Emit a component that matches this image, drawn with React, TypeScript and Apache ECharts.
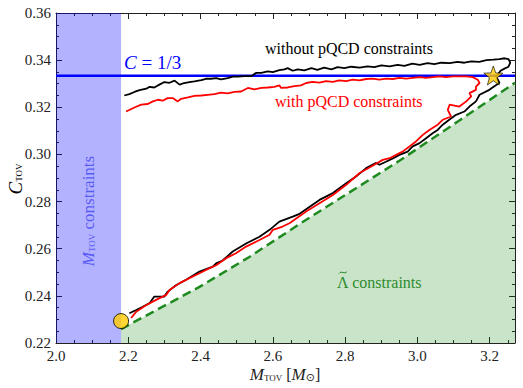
import React, { useEffect, useRef } from "react";
import * as echarts from "echarts";

const X_MIN = 2.0;
const X_MAX = 3.27;
const X_STEP = 0.2;
const Y_MIN = 0.22;
const Y_MAX = 0.36;
const Y_STEP = 0.02;
const MTOV_MIN = 2.18;
const C_LIMIT = 1 / 3;

const withoutPQCD: [number, number][] = [
  [2.189, 0.325], [2.203, 0.3256], [2.217, 0.3265], [2.231, 0.3273], [2.25, 0.3279], [2.259, 0.3287],
  [2.272, 0.3284], [2.286, 0.3296], [2.3, 0.3307], [2.314, 0.3304], [2.328, 0.3313], [2.342, 0.3296],
  [2.351, 0.3301], [2.369, 0.3307], [2.383, 0.331], [2.402, 0.3315], [2.415, 0.3321], [2.429, 0.3321],
  [2.443, 0.3324], [2.457, 0.3318], [2.475, 0.3324], [2.489, 0.333], [2.503, 0.333], [2.521, 0.3332],
  [2.54, 0.3332], [2.554, 0.3346], [2.568, 0.3346], [2.586, 0.3352], [2.6, 0.3349], [2.618, 0.3358],
  [2.632, 0.3361], [2.641, 0.3366], [2.655, 0.3355], [2.669, 0.3361], [2.687, 0.3357], [2.707, 0.3366],
  [2.723, 0.3359], [2.742, 0.3368], [2.762, 0.3361], [2.779, 0.337], [2.798, 0.3366], [2.817, 0.3372],
  [2.84, 0.3368], [2.862, 0.3374], [2.881, 0.337], [2.9, 0.3378], [2.923, 0.3374], [2.945, 0.338],
  [2.964, 0.3376], [2.986, 0.3385], [3.006, 0.338], [3.028, 0.3387], [3.047, 0.3383], [3.066, 0.3389],
  [3.089, 0.3387], [3.111, 0.3393], [3.13, 0.3389], [3.149, 0.3395], [3.171, 0.3393], [3.191, 0.34],
  [3.21, 0.3402], [3.227, 0.3404], [3.241, 0.3408], [3.252, 0.3404], [3.257, 0.3389], [3.252, 0.3372],
  [3.241, 0.3364], [3.23, 0.3355], [3.224, 0.3342], [3.218, 0.333], [3.227, 0.3304], [3.199, 0.3274],
  [3.172, 0.3253], [3.162, 0.3225], [3.144, 0.3203], [3.13, 0.3182], [3.107, 0.3168], [3.088, 0.3147],
  [3.07, 0.3126], [3.056, 0.3104], [3.042, 0.309], [3.024, 0.3069], [3.006, 0.3048], [2.987, 0.3034],
  [2.973, 0.3012], [2.95, 0.2998], [2.932, 0.2983], [2.913, 0.2969], [2.895, 0.2956], [2.886, 0.2964],
  [2.858, 0.2942], [2.83, 0.2906], [2.803, 0.2878], [2.766, 0.2836], [2.729, 0.2807], [2.674, 0.2748],
  [2.655, 0.2736], [2.618, 0.2715], [2.591, 0.268], [2.563, 0.2651], [2.526, 0.2622], [2.489, 0.2588],
  [2.461, 0.255], [2.443, 0.2538], [2.434, 0.2524], [2.397, 0.2503], [2.36, 0.2468], [2.333, 0.2446],
  [2.309, 0.2418], [2.3, 0.2397], [2.272, 0.2397], [2.259, 0.2369], [2.24, 0.2354], [2.222, 0.234],
  [2.203, 0.2326],
];

const withPQCD: [number, number][] = [
  [2.194, 0.3182], [2.217, 0.3199], [2.236, 0.3211], [2.254, 0.3214], [2.268, 0.3225], [2.282, 0.3232],
  [2.295, 0.3228], [2.309, 0.3239], [2.323, 0.3239], [2.337, 0.3225], [2.346, 0.3236], [2.365, 0.3242],
  [2.383, 0.3248], [2.402, 0.325], [2.42, 0.3253], [2.438, 0.3256], [2.457, 0.3262], [2.475, 0.3259],
  [2.494, 0.3265], [2.512, 0.3267], [2.531, 0.3282], [2.549, 0.3276], [2.568, 0.3282], [2.586, 0.3284],
  [2.604, 0.3287], [2.618, 0.3293], [2.623, 0.3282], [2.641, 0.3284], [2.66, 0.329], [2.678, 0.3293],
  [2.692, 0.3303], [2.71, 0.3308], [2.729, 0.3305], [2.747, 0.3311], [2.766, 0.3308], [2.784, 0.3314],
  [2.803, 0.3311], [2.821, 0.3317], [2.84, 0.3314], [2.858, 0.332], [2.876, 0.3322], [2.895, 0.3317],
  [2.913, 0.3322], [2.932, 0.332], [2.95, 0.3325], [2.969, 0.3322], [2.987, 0.3325], [3.006, 0.3328],
  [3.024, 0.3325], [3.042, 0.3328], [3.061, 0.3331], [3.079, 0.3328], [3.098, 0.3331], [3.116, 0.3331],
  [3.135, 0.3331], [3.153, 0.3328], [3.167, 0.3317], [3.172, 0.3303], [3.162, 0.3288], [3.162, 0.3274],
  [3.144, 0.326], [3.149, 0.3246], [3.135, 0.3225], [3.116, 0.3203], [3.089, 0.3211], [3.084, 0.3189],
  [3.093, 0.3161], [3.07, 0.3147], [3.056, 0.3126], [3.033, 0.3104], [3.015, 0.3083], [2.996, 0.3055],
  [2.978, 0.3034], [2.959, 0.3012], [2.941, 0.2998], [2.923, 0.2984], [2.904, 0.2977], [2.876, 0.2952],
  [2.84, 0.2921], [2.803, 0.2871], [2.766, 0.2828], [2.729, 0.2793], [2.692, 0.2758], [2.646, 0.2708],
  [2.627, 0.2694], [2.6, 0.268], [2.591, 0.2659], [2.563, 0.2637], [2.526, 0.2609], [2.498, 0.2581],
  [2.471, 0.256], [2.443, 0.253], [2.415, 0.251], [2.397, 0.2496], [2.369, 0.2475], [2.342, 0.2454],
  [2.314, 0.2425], [2.305, 0.2404], [2.277, 0.2383], [2.25, 0.2361], [2.222, 0.2333], [2.208, 0.2306],
];

const lambdaBound: [number, number][] = [
  [2.18, 0.2259], [2.397, 0.2438], [2.535, 0.2565], [2.674, 0.2705], [2.95, 0.2973], [3.116, 0.3144], [3.27, 0.3304],
];

const minPoint: [number, number] = [2.18, 0.2293];
const maxPoint: [number, number] = [3.21, 0.3335];

const SERIF = '"Liberation Serif", "DejaVu Serif", serif';
const STAR = "path://M12,1 L14.9,8.9 L23.4,9.2 L16.7,14.4 L19.1,22.6 L12,17.8 L4.9,22.6 L7.3,14.4 L0.6,9.2 L9.1,8.9 Z";

export default function App() {
  const ref = useRef<HTMLDivElement>(null);
  useEffect(() => {
    if (!ref.current) return;
    const chart = echarts.init(ref.current, null, { renderer: "svg" });
    const axisColor = "#222";
    const baseX = {
      type: "value",
      min: X_MIN,
      max: X_MAX,
      interval: X_STEP,
      axisLine: { onZero: false, lineStyle: { color: axisColor, width: 1 } },
      axisTick: { inside: true, length: 6, lineStyle: { color: axisColor } },
      minorTick: { show: true, splitNumber: 4, length: 3, lineStyle: { color: axisColor } },
      splitLine: { show: false },
      minorSplitLine: { show: false },
    };
    const baseY = {
      type: "value",
      min: Y_MIN,
      max: Y_MAX,
      interval: Y_STEP,
      axisLine: { onZero: false, lineStyle: { color: axisColor, width: 1 } },
      axisTick: { inside: true, length: 6, lineStyle: { color: axisColor } },
      minorTick: { show: true, splitNumber: 4, length: 3, lineStyle: { color: axisColor } },
      splitLine: { show: false },
      minorSplitLine: { show: false },
    };
    const sub = { fontSize: 9, fontFamily: SERIF, padding: [8, 0, 0, 0] };
    const GREEN_TEXT = "#2e8b2e";
    chart.setOption({
      animation: false,
      backgroundColor: "#fff",
      grid: { left: 56, right: 8, top: 13, bottom: 45, outerBoundsMode: "none" },
      xAxis: [
        {
          ...baseX,
          position: "bottom",
          axisLabel: {
            color: "#222",
            fontFamily: SERIF,
            fontSize: 15,
            margin: 5,
            alignMinLabel: "center",
            hideOverlap: false,
            formatter: (v: number) => (Math.abs(v / X_STEP - Math.round(v / X_STEP)) < 1e-6 ? v.toFixed(1) : ""),
          },
        },
        { ...baseX, position: "top", axisLabel: { show: false } },
      ],
      yAxis: [
        {
          ...baseY,
          position: "left",
          axisLabel: {
            color: "#222",
            fontFamily: SERIF,
            fontSize: 15,
            margin: 5,
            verticalAlignMinLabel: "middle",
            hideOverlap: false,
            formatter: (v: number) => v.toFixed(2),
          },
        },
        { ...baseY, position: "right", axisLabel: { show: false } },
      ],
      series: [
        {
          type: "line",
          data: lambdaBound,
          showSymbol: false,
          z: 1,
          lineStyle: { color: "#1f8a1f", width: 2.5, type: [9, 5] },
          areaStyle: { color: "rgba(0,128,0,0.3)", origin: "start" },
          markArea: {
            silent: true,
            itemStyle: { color: "rgba(0,0,255,0.3)" },
            data: [[{ xAxis: X_MIN }, { xAxis: MTOV_MIN }]],
          },
        },
        {
          type: "line",
          data: [[X_MIN, C_LIMIT], [X_MAX, C_LIMIT]],
          showSymbol: false,
          z: 3,
          lineStyle: { color: "#0000ff", width: 2.5 },
        },
        {
          type: "line",
          data: withoutPQCD,
          showSymbol: false,
          z: 4,
          lineStyle: { color: "#000", width: 1.8 },
        },
        {
          type: "line",
          data: withPQCD,
          showSymbol: false,
          z: 4,
          lineStyle: { color: "#ff0000", width: 1.8 },
        },
        {
          type: "scatter",
          data: [minPoint],
          symbol: "circle",
          symbolSize: 15,
          z: 6,
          itemStyle: { color: "#ffcc00", borderColor: "#000", borderWidth: 1 },
        },
        {
          type: "scatter",
          data: [maxPoint],
          symbol: STAR,
          symbolSize: 19,
          z: 6,
          itemStyle: { color: "#ffcc00", borderColor: "#000", borderWidth: 0.8 },
        },
      ],
      graphic: [
        {
          type: "text",
          x: 265,
          y: 48,
          z: 10,
          style: { text: "without pQCD constraints", fill: "#000", fontSize: 16, fontFamily: SERIF, verticalAlign: "middle" },
        },
        {
          type: "text",
          x: 275,
          y: 101,
          z: 10,
          style: { text: "with pQCD constraints", fill: "#ff0000", fontSize: 16, fontFamily: SERIF, verticalAlign: "middle" },
        },
        {
          type: "text",
          x: 124,
          y: 62,
          z: 10,
          style: {
            text: "{i|C} = 1/3",
            fill: "#0000ff",
            fontSize: 19,
            fontFamily: SERIF,
            verticalAlign: "middle",
            rich: { i: { fontStyle: "italic", fontSize: 19, fontFamily: SERIF, fill: "#0000ff" } },
          },
        },
        {
          type: "text",
          x: 88,
          y: 211,
          z: 10,
          rotation: Math.PI / 2,
          style: {
            text: "{i|M}{s|TOV} constraints",
            fill: "#5a5af5",
            fontSize: 17,
            fontFamily: SERIF,
            align: "center",
            verticalAlign: "middle",
            rich: {
              i: { fontStyle: "italic", fontSize: 17, fontFamily: SERIF, fill: "#5a5af5" },
              s: { ...sub, fill: "#5a5af5" },
            },
          },
        },
        {
          type: "text",
          x: 337,
          y: 282,
          z: 10,
          style: { text: "Λ constraints", fill: GREEN_TEXT, fontSize: 16, fontFamily: SERIF, verticalAlign: "middle" },
        },
        {
          type: "bezierCurve",
          z: 10,
          shape: { x1: 339, y1: 273.5, cpx1: 341.5, cpy1: 270, cpx2: 344.5, cpy2: 275, x2: 347, y2: 271.5 },
          style: { stroke: GREEN_TEXT, lineWidth: 1, fill: null },
        },
        {
          type: "text",
          x: 15,
          y: 179,
          z: 10,
          rotation: Math.PI / 2,
          style: {
            text: "{i|C}{s|TOV}",
            fill: "#000",
            fontSize: 18,
            fontFamily: SERIF,
            align: "center",
            verticalAlign: "middle",
            rich: {
              i: { fontStyle: "italic", fontSize: 19, fontFamily: SERIF, fill: "#000" },
              s: { ...sub, fill: "#000" },
            },
          },
        },
        {
          type: "text",
          x: 285,
          y: 374,
          z: 10,
          style: {
            text: "{i|M}{s|TOV} [{i|M}{o|⊙}]",
            fill: "#222",
            fontSize: 16,
            fontFamily: SERIF,
            align: "center",
            verticalAlign: "middle",
            rich: {
              i: { fontStyle: "italic", fontSize: 17, fontFamily: SERIF, fill: "#222" },
              s: { ...sub, fill: "#222" },
              o: { fontSize: 11, fontFamily: '"DejaVu Sans", sans-serif', padding: [7, 0, 0, 0], fill: "#222" },
            },
          },
        },
      ],
    });
    return () => chart.dispose();
  }, []);
  return <div ref={ref} style={{ position: "fixed", left: 0, top: 0, width: 523, height: 388, background: "#fff" }} />;
}
